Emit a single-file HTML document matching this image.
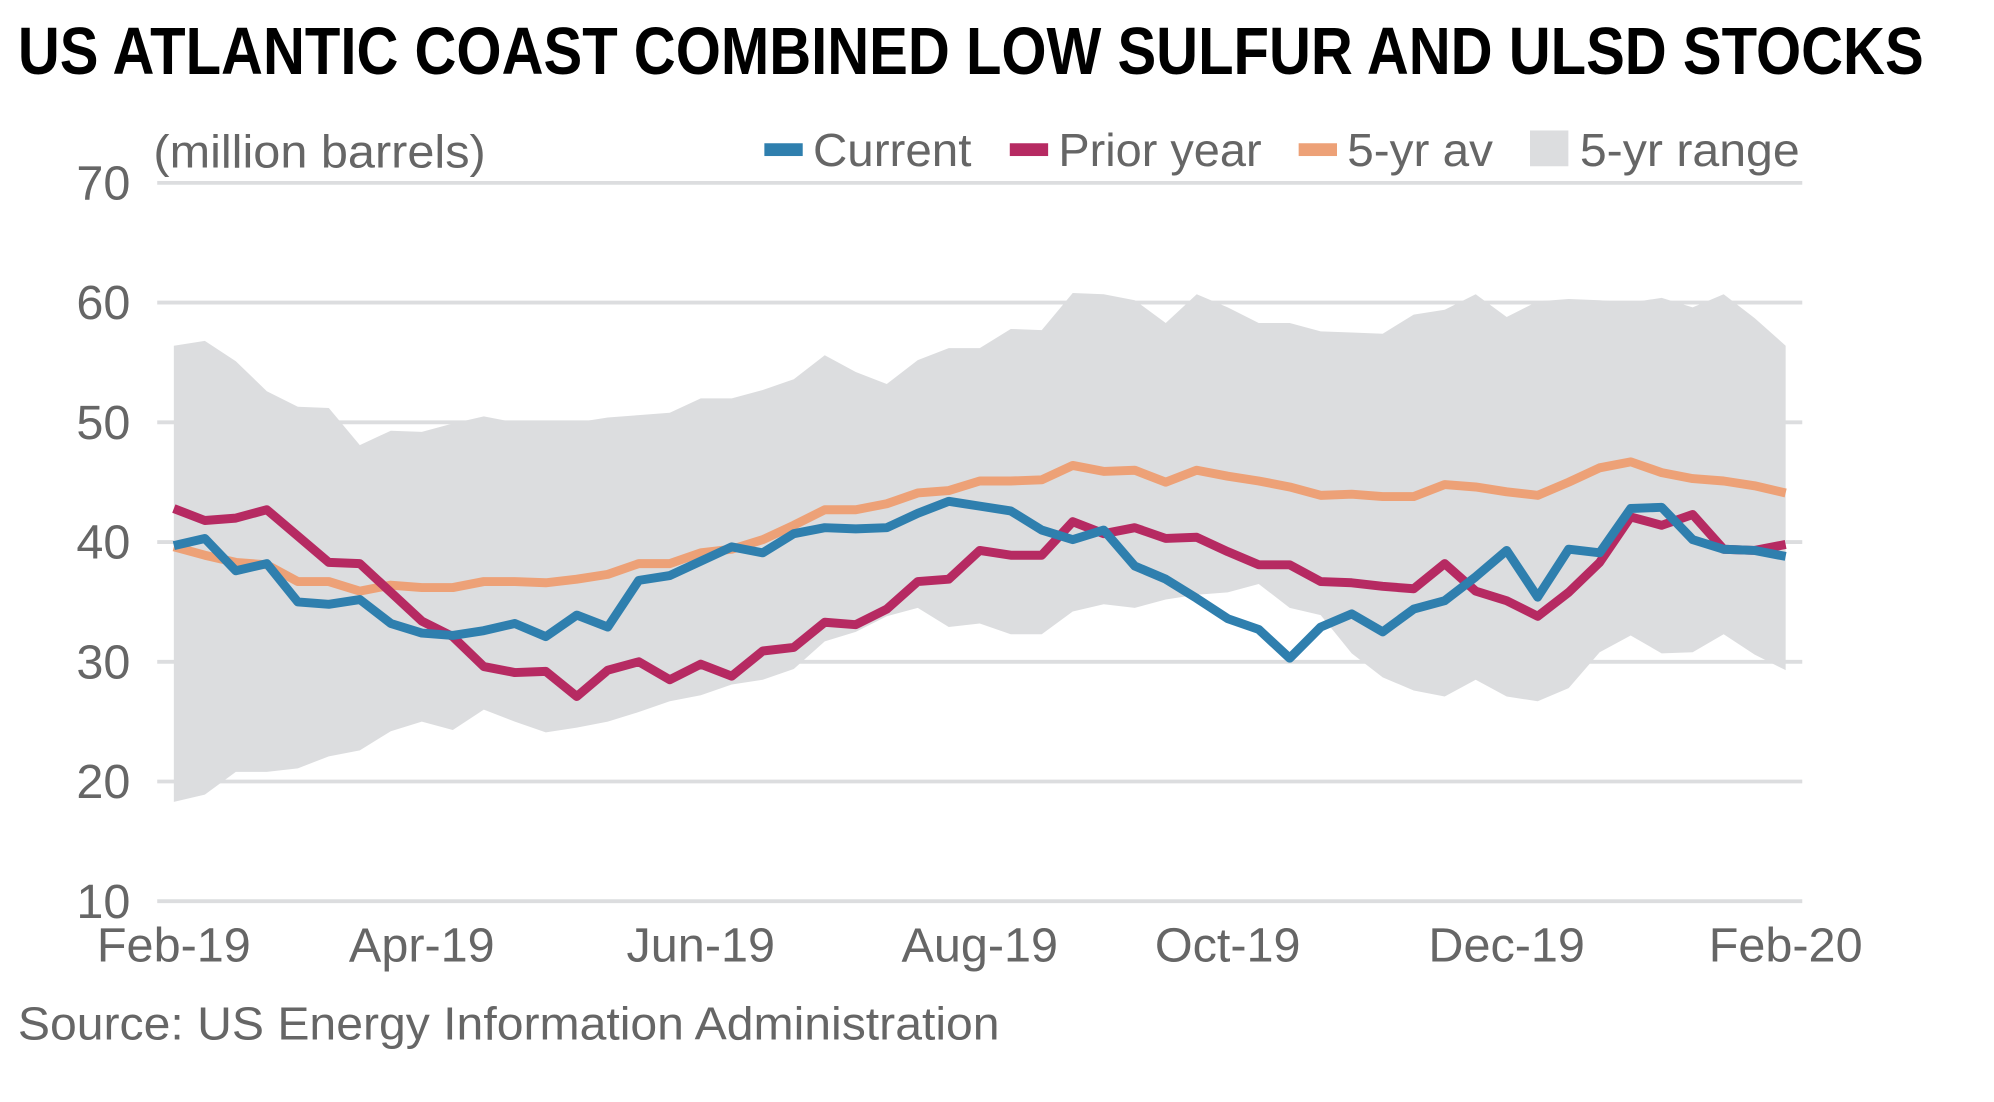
<!DOCTYPE html>
<html><head><meta charset="utf-8"><style>
html,body{margin:0;padding:0;background:#fff;}
svg{display:block;}
text{font-family:"Liberation Sans Narrow","Liberation Sans",sans-serif;}
</style></head><body>
<svg id="chart" width="1994" height="1102" viewBox="0 0 1560 862" xmlns="http://www.w3.org/2000/svg">
<text x="14" y="58" font-size="52" font-weight="bold" fill="#000" textLength="1491" lengthAdjust="spacingAndGlyphs">US ATLANTIC COAST COMBINED LOW SULFUR AND ULSD STOCKS</text>
<text x="120" y="131" font-size="36" fill="#666" textLength="260" lengthAdjust="spacingAndGlyphs">(million barrels)</text>
<g id="legend">
<rect x="598" y="112" width="30" height="10" fill="#2f7fae"/>
<text x="636" y="130" font-size="36" fill="#666" textLength="124" lengthAdjust="spacingAndGlyphs">Current</text>
<rect x="790" y="112" width="30" height="10" fill="#b62a62"/>
<text x="828" y="130" font-size="36" fill="#666" textLength="159" lengthAdjust="spacingAndGlyphs">Prior year</text>
<rect x="1016" y="112" width="30" height="10" fill="#eda177"/>
<text x="1054" y="130" font-size="36" fill="#666" textLength="114" lengthAdjust="spacingAndGlyphs">5-yr av</text>
<rect x="1197" y="102" width="30" height="28" fill="#dcdddf"/>
<text x="1236" y="130" font-size="36" fill="#666" textLength="172" lengthAdjust="spacingAndGlyphs">5-yr range</text>
</g>
<g id="grid"></g>
<g id="marks"></g>
<g id="axes"></g>
<text x="14" y="813" font-size="36" fill="#666" textLength="768" lengthAdjust="spacingAndGlyphs">Source: US Energy Information Administration</text>
</svg>
<script>
const yTicks = [10,20,30,40,50,60,70];
const xLabels = ["Feb-19","Apr-19","Jun-19","Aug-19","Oct-19","Dec-19","Feb-20"];
const xLabelWeeks = [0,8,17,26,34,43,52];
const current = [39.7,40.3,37.6,38.2,35.0,34.8,35.2,33.2,32.4,32.2,32.6,33.2,32.1,33.9,32.9,36.8,37.2,38.4,39.6,39.1,40.7,41.2,41.1,41.2,42.4,43.4,43.0,42.6,41.0,40.2,41.0,38.0,36.9,35.3,33.6,32.7,30.3,32.9,34.0,32.5,34.4,35.1,37.1,39.3,35.4,39.4,39.1,42.8,42.9,40.2,39.4,39.3,38.8];
const priorYear = [42.8,41.8,42.0,42.7,40.5,38.3,38.2,35.8,33.4,32.1,29.6,29.1,29.2,27.1,29.3,30.0,28.5,29.8,28.8,30.9,31.2,33.3,33.1,34.4,36.7,36.9,39.3,38.9,38.9,41.7,40.7,41.2,40.3,40.4,39.2,38.1,38.1,36.7,36.6,36.3,36.1,38.2,35.9,35.1,33.8,35.8,38.3,42.1,41.4,42.3,39.4,39.3,39.8];
const avg5 = [39.6,38.9,38.3,38.1,36.7,36.7,35.9,36.4,36.2,36.2,36.7,36.7,36.6,36.9,37.3,38.2,38.2,39.1,39.4,40.2,41.4,42.7,42.7,43.2,44.1,44.3,45.1,45.1,45.2,46.4,45.9,46.0,45.0,46.0,45.5,45.1,44.6,43.9,44.0,43.8,43.8,44.8,44.6,44.2,43.9,45.0,46.2,46.7,45.8,45.3,45.1,44.7,44.1];
const rangeMax = [56.4,56.8,55.1,52.6,51.3,51.2,48.1,49.3,49.2,49.9,50.5,50.0,50.0,50.0,50.4,50.6,50.8,52.0,52.0,52.7,53.6,55.6,54.2,53.2,55.2,56.2,56.2,57.8,57.7,60.8,60.7,60.2,58.3,60.7,59.6,58.3,58.3,57.6,57.5,57.4,59.0,59.4,60.7,58.8,60.1,60.3,60.2,60.0,60.4,59.6,60.7,58.7,56.4];
const rangeMin = [18.3,18.9,20.8,20.8,21.1,22.1,22.6,24.2,25.0,24.3,26.0,25.0,24.1,24.5,25.0,25.8,26.7,27.2,28.1,28.5,29.4,31.7,32.5,33.8,34.5,32.9,33.2,32.3,32.3,34.2,34.8,34.5,35.2,35.6,35.8,36.5,34.5,33.9,30.7,28.7,27.6,27.1,28.5,27.1,26.7,27.8,30.8,32.2,30.7,30.8,32.3,30.6,29.3];

const NS="http://www.w3.org/2000/svg";
const yMin=10,yMax=70,yTop=143,yBot=705;
const xStart=136,xEnd=1397,nPts=53;
function yScale(v){return yBot-(v-yMin)/(yMax-yMin)*(yBot-yTop);}
function xScale(i){return xStart+i*(xEnd-xStart)/(nPts-1);}
function mk(tag,parent){const e=document.createElementNS(NS,tag);parent.appendChild(e);return e;}

const grid=document.getElementById('grid'),axes=document.getElementById('axes'),marks=document.getElementById('marks');
yTicks.forEach(t=>{
  const l=mk('line',grid);
  
  
  l.setAttribute('x1',123);l.setAttribute('x2',1410);
  l.setAttribute('y1',yScale(t));l.setAttribute('y2',yScale(t));
  l.setAttribute('stroke','#dcdddf');l.setAttribute('stroke-width',3);
  const tx=mk('text',axes);
  
  
  tx.setAttribute('x',102);tx.setAttribute('y',yScale(t)+13);
  tx.setAttribute('text-anchor','end');tx.setAttribute('font-size',38);tx.setAttribute('fill','#666');
  tx.textContent=t;
});
xLabels.forEach((lab,k)=>{
  const tx=mk('text',axes);
  
  
  tx.setAttribute('x',xScale(xLabelWeeks[k]));tx.setAttribute('y',752);
  tx.setAttribute('text-anchor','middle');tx.setAttribute('font-size',38);tx.setAttribute('fill','#666');
  tx.textContent=lab;
});
let d='';
rangeMax.forEach((v,i)=>{d+=(i?'L':'M')+xScale(i)+','+yScale(v);});
for(let i=rangeMin.length-1;i>=0;i--){d+='L'+xScale(i)+','+yScale(rangeMin[i]);}
const area=mk('path',marks);


area.setAttribute('d',d+'Z');area.setAttribute('fill','#dcdddf');
function line(arr,color,name){
  const p=mk('polyline',marks);
  
  
  p.setAttribute('points',arr.map((v,i)=>xScale(i)+','+yScale(v)).join(' '));
  p.setAttribute('fill','none');p.setAttribute('stroke',color);
  p.setAttribute('stroke-width',7);p.setAttribute('stroke-linejoin','round');
}
line(avg5,'#eda177','five-year-average-line');
line(priorYear,'#b62a62','prior-year-line');
line(current,'#2f7fae','current-line');
</script>
</body></html>
